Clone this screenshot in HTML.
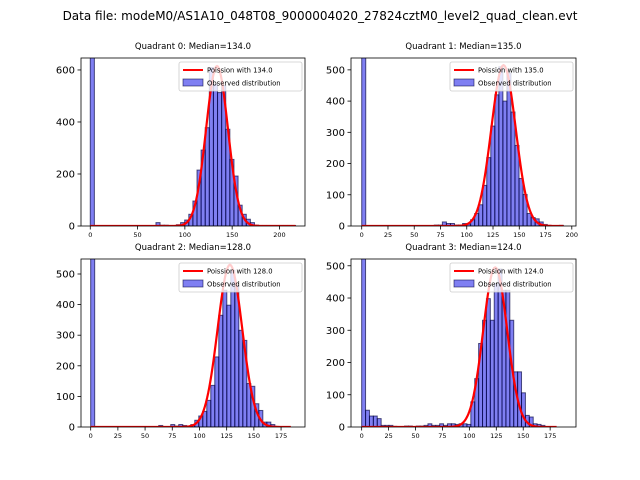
<!DOCTYPE html>
<html><head><meta charset="utf-8"><style>
body{margin:0;background:#fff;}
svg{display:block;font-family:"DejaVu Sans","Liberation Sans",sans-serif;}
</style></head><body>
<svg id="fig" width="640" height="480">
<rect width="640" height="480" fill="#fff"/>
<text x="320" y="20" text-anchor="middle" font-size="12">Data file: modeM0/AS1A10_048T08_9000004020_27824cztM0_level2_quad_clean.evt</text>
</svg>
<script>
// Data per quadrant
const medians = [134.0, 135.0, 128.0, 124.0];
const binWidths = [4.34, 3.84, 3.68, 3.62];
const startBins = [0, 0, 0, 0];
const q0Counts = [2000,0,0,0,0,0,0,0,0,0,0,0,0,0,0,0,13,3,3,2,2,5,13,23,45,96,215,292,378,609,545,513,540,372,256,192,80,45,26,13,3,2,2,2,2,2,2,2,2,2];
const q1Counts = [2000,0,0,0,0,0,0,0,0,0,0,0,0,0,0,0,0,0,3,3,13,8,8,3,3,8,6,20,40,68,130,219,320,420,510,400,490,365,258,152,101,40,27,23,13,5,2,0,0,2];
const q2Counts = [2000,0,0,0,0,0,0,0,0,0,0,0,0,0,0,0,0,5,0,0,8,3,8,5,3,8,22,36,51,87,136,229,365,447,398,512,463,316,283,142,133,76,54,16,16,8,2,0,0,0];
const q3Counts = [2000,52,34,34,26,5,5,5,2,0,0,3,3,0,3,3,5,10,5,5,10,5,10,10,8,10,10,8,78,150,259,331,398,331,445,490,424,424,331,171,171,106,36,31,10,8,5,0,0,0];
const poissonPeaks = [615, 515, 530, 495];
const curveMax = [217, 192, 184, 181];
const yTicks0 = [0,200,400,600];
const yTicks1 = [0,100,200,300,400,500];
const xTicks0 = [0,50,100,150,200];
const xTicks1 = [0,25,50,75,100,125,150,175,200];
const xTicks2 = [0,25,50,75,100,125,150,175];

const NS = "http://www.w3.org/2000/svg";
const svg = document.getElementById('fig');
function mk(tag, attrs, parent){const e=document.createElementNS(NS,tag);for(const k in attrs)e.setAttribute(k,attrs[k]);(parent||svg).appendChild(e);return e;}

const panels = [
 {L:81,R:305,T:58,B:226,xmin:-9.8,xmax:227,ymax:646,counts:q0Counts,yt:yTicks0,xt:xTicks0},
 {L:351,R:576,T:58,B:226,xmin:-10.2,xmax:204,ymax:538,counts:q1Counts,yt:yTicks1,xt:xTicks1},
 {L:81,R:305,T:259,B:427,xmin:-8.9,xmax:197,ymax:549,counts:q2Counts,yt:yTicks1,xt:xTicks2},
 {L:351,R:576,T:259,B:427,xmin:-9.9,xmax:199,ymax:521,counts:q3Counts,yt:yTicks1,xt:xTicks2}
];

panels.forEach((p,i)=>{
  const g = mk('g',{});
  
  
  const xs = v => p.L + (v-p.xmin)/(p.xmax-p.xmin)*(p.R-p.L);
  const ys = v => p.B - v/p.ymax*(p.B-p.T);
  const cid='clip'+i;
  const cp = mk('clipPath',{id:cid},g); mk('rect',{x:p.L,y:p.T,width:p.R-p.L,height:p.B-p.T},cp);
  const plot = mk('g',{'clip-path':'url(#'+cid+')'},g);
  const bw = binWidths[i];
  p.counts.forEach((c,k)=>{
    if(c<=0) return;
    const x0 = xs((startBins[i]+k)*bw), x1 = xs((startBins[i]+k+1)*bw);
    const r = mk('rect',{x:x0,y:ys(c),width:x1-x0,height:ys(0)-ys(c),fill:'rgba(0,0,230,0.5)',stroke:'rgba(0,0,60,0.65)','stroke-width':1},plot);
    
    
  });
  const lam = medians[i], pk = poissonPeaks[i];
  let d='';
  for(let x=0;x<=curveMax[i];x+=1){
    const y = pk*Math.exp(-(x-lam)*(x-lam)/(2*lam));
    d += (x===0?'M':'L')+xs(x).toFixed(2)+','+ys(y).toFixed(2);
  }
  const pl = mk('path',{d:d,fill:'none',stroke:'#ff0000','stroke-width':2.2},plot);
  
  
  mk('rect',{x:p.L,y:p.T,width:p.R-p.L,height:p.B-p.T,fill:'none',stroke:'#000','stroke-width':0.8},g);
  p.yt.forEach(t=>{
    const y=ys(t);
    mk('line',{x1:p.L-3.5,x2:p.L,y1:y,y2:y,stroke:'#000','stroke-width':0.8},g);
    const tx=mk('text',{x:p.L-6,y:y+3.5,'text-anchor':'end','font-size':10},g);
    tx.textContent=t;
    
    
  });
  p.xt.forEach(t=>{
    const x=xs(t); if(x>p.R+1) return;
    mk('line',{x1:x,x2:x,y1:p.B,y2:p.B+3.5,stroke:'#000','stroke-width':0.8},g);
    const tx=mk('text',{x:x,y:p.B+11,'text-anchor':'middle','font-size':6.5},g);
    tx.textContent=t;
    
    
  });
  const ti=mk('text',{x:(p.L+p.R)/2,y:p.T-9,'text-anchor':'middle','font-size':8.5},g);
  ti.textContent='Quadrant '+i+': Median='+medians[i].toFixed(1);
  
  
  const lg=mk('g',{},g);
  
  
  const lx=p.R-126, ly=p.T+4;
  mk('rect',{x:lx,y:ly,width:123,height:29,rx:2,fill:'rgba(255,255,255,0.8)',stroke:'#ccc','stroke-width':0.8},lg);
  mk('line',{x1:lx+4,x2:lx+24,y1:ly+8,y2:ly+8,stroke:'#ff0000','stroke-width':2},lg);
  const t1=mk('text',{x:lx+28,y:ly+10.5,'font-size':6.8},lg); t1.textContent='Poission with '+medians[i].toFixed(1);
  mk('rect',{x:lx+4,y:ly+17,width:20,height:7,fill:'rgba(0,0,230,0.5)',stroke:'rgba(0,0,60,0.65)','stroke-width':0.8},lg);
  const t2=mk('text',{x:lx+28,y:ly+23.5,'font-size':6.8},lg); t2.textContent='Observed distribution';
});
</script>
</body></html>
